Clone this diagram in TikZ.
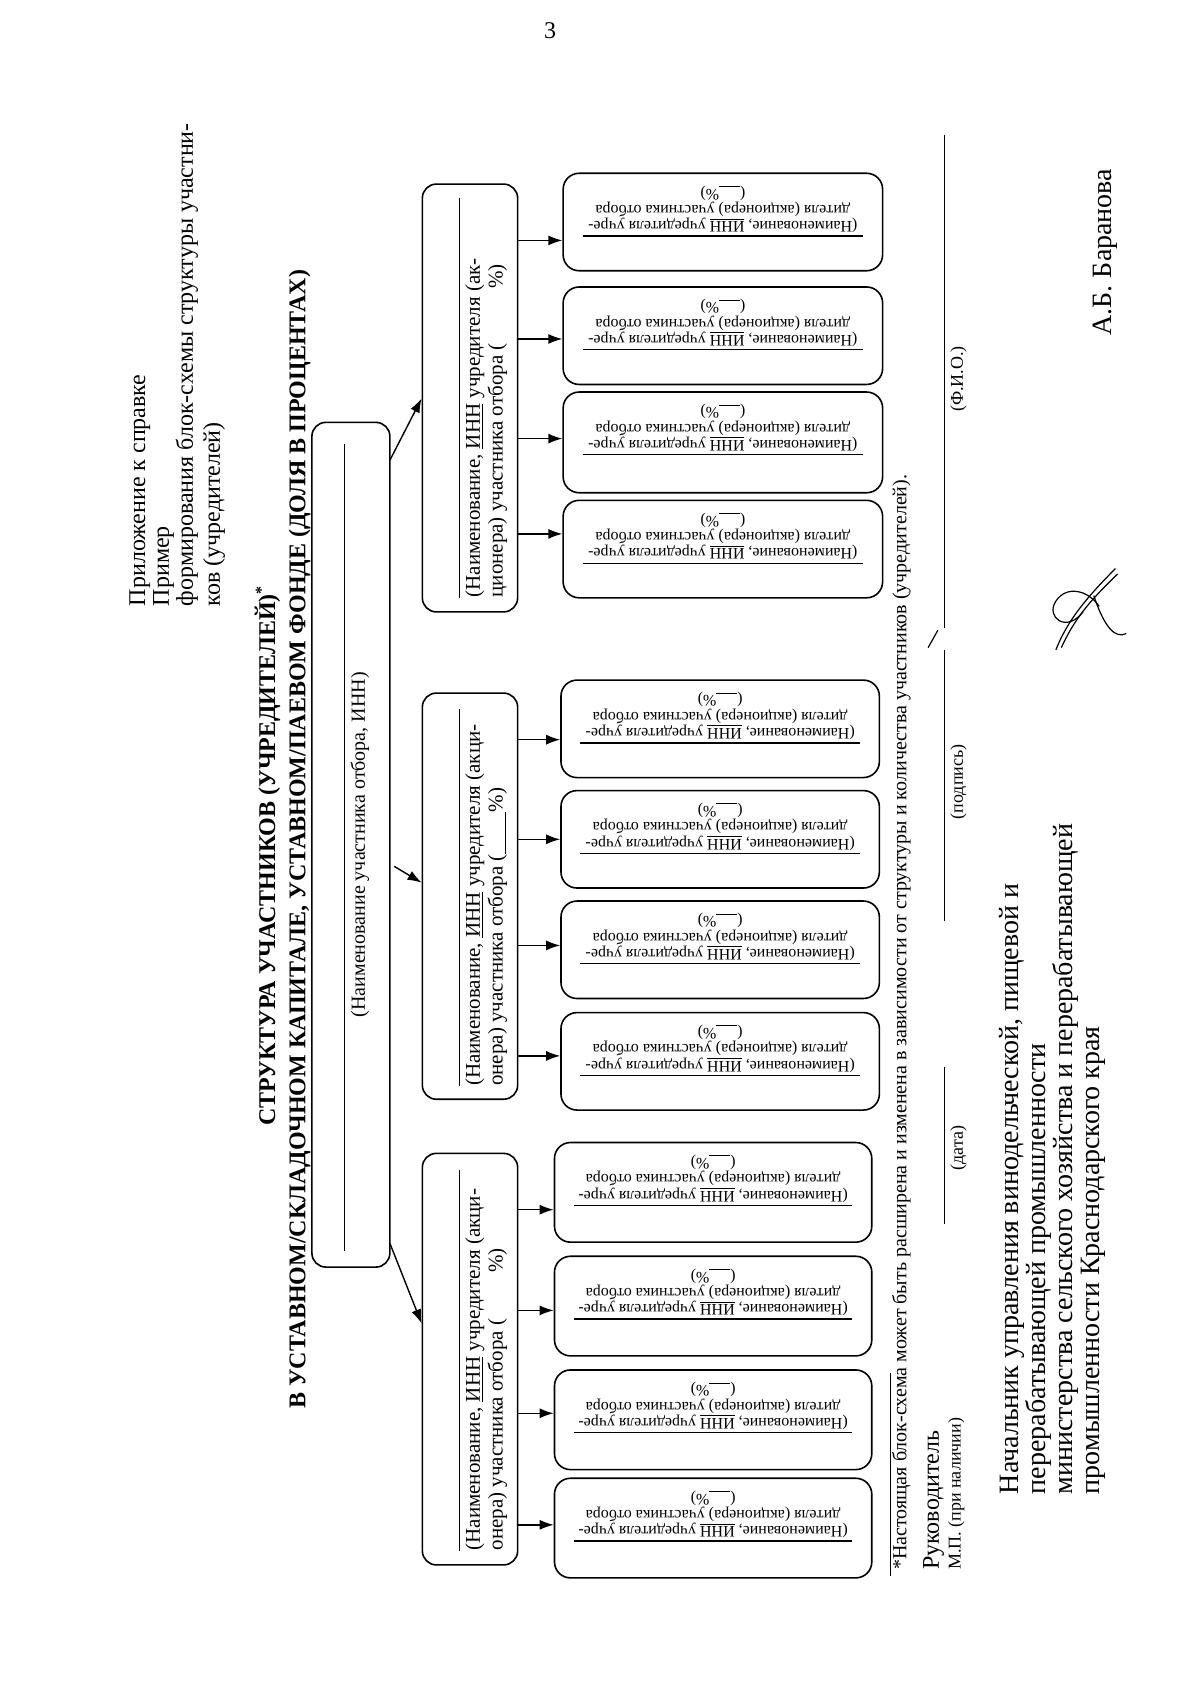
\documentclass[tikz,border=0pt]{standalone}
\usepackage{fontspec}
\setmainfont{Liberation Serif}
\usetikzlibrary{arrows.meta,fit}
\newcommand{\fs}[1]{\fontsize{#1}{#1}\selectfont}
\tikzset{
  box/.style={draw, rounded corners=7pt, line width=0.8pt, inner sep=0pt},
  cbox/.style={draw, rounded corners=8pt, line width=0.8pt, inner sep=0pt},
  rot/.style={rotate=90, anchor=base west, inner sep=0pt},
  rotc/.style={rotate=90, anchor=base, inner sep=0pt},
  ctext/.style={rotate=180, align=center, inner sep=0pt, font=\fontsize{8}{8.2}\selectfont},
  blank/.style={line width=0.6pt},
  arr/.style={-{Latex[length=7pt,width=5pt]}, line width=0.7pt}
}
\newcommand{\chbox}[7]{%
  \node[cbox, fit={(#2,-#3) (#4,-#5)}] (#1) {};
  \node[ctext] (#1t) at ({(#2+#4)/2},{-#3-33}) {(Наименование, \underline{ИНН} учредителя учре-\\дителя (акционера) участника отбора\\(\underline{\hspace{1.3em}}\%)};
  \draw[blank] ({#2+18},{-#3-58}) -- ({#4-18},{-#3-58});
  \draw[arr] (#6.east |- 0,-#7) -- (#1.west |- 0,-#7);
}
\begin{document}
\begin{tikzpicture}[x=0.5415pt,y=0.5415pt]
\useasboundingbox[fill=white] (0,0) rectangle (1108,-1563.3);

% page number
\node[font=\fs{12}, inner sep=0pt] (pg) at (508,-28) {3};

% appendix note
\node[rot, font=\fs{12}] (a1) at (134,-560) {Приложение к справке};
\node[rot, font=\fs{12}] (a2) at (156,-560) {Пример};
\node[rot, font=\fs{12}] (a3) at (178,-560) {формирования блок-схемы структуры участни-};
\node[rot, font=\fs{12}] (a4) at (203,-560) {ков (учредителей)};

% title
\node[rotc, font=\bfseries\fs{12}] (t1) at (254,-790) {СТРУКТУРА УЧАСТНИКОВ (УЧРЕДИТЕЛЕЙ)\textsuperscript{*}};
\node[rotc, font=\bfseries\fs{12}] (t2) at (282,-775) {В УСТАВНОМ/СКЛАДОЧНОМ КАПИТАЛЕ, УСТАВНОМ/ПАЕВОМ ФОНДЕ (ДОЛЯ В ПРОЦЕНТАХ)};

% root box
\node[box, fit={(288,-390) (360,-1170)}] (root) {};
\draw[blank] (318,-410) -- (318,-1155);
\node[rotc, font=\fs{10}] (roott) at (337,-780) {(Наименование участника отбора, ИНН)};

% parent boxes
\node[box, fit={(390,-1065) (478,-1445)}] (P1) {};
\draw[blank] (424,-1080) -- (424,-1432);
\node[rot, font=\fs{10.5}] (P1a) at (443,-1432) {(Наименование, \underline{ИНН} учредителя (акци-};
\node[rot, font=\fs{10.5}] (P1b) at (464,-1432) {онера) участника отбора (\hspace{2.2em}\%)};

\node[box, fit={(390,-640) (478,-1015)}] (P2) {};
\draw[blank] (424,-655) -- (424,-1003);
\node[rot, font=\fs{10.5}] (P2a) at (443,-1003) {(Наименование, \underline{ИНН} учредителя (акци-};
\node[rot, font=\fs{10.5}] (P2b) at (464,-1003) {онера) участника отбора (\underline{\hspace{2em}}\%)};

\node[box, fit={(390,-170) (478,-565)}] (P3) {};
\draw[blank] (424,-183) -- (424,-552);
\node[rot, font=\fs{10.5}] (P3a) at (443,-552) {(Наименование, \underline{ИНН} учредителя (ак-};
\node[rot, font=\fs{10.5}] (P3b) at (464,-552) {ционера) участника отбора (\hspace{2.6em}\%)};

% root -> parents
\coordinate (r1) at (360,-1148);
\coordinate (r2) at (364,-800);
\coordinate (r3) at (360,-425);
\draw[arr] (r1) -- (P1.west |- 0,-1222);
\draw[arr] (r2) -- (P2.west |- 0,-815);
\draw[arr] (r3) -- (P3.west |- 0,-368);

% child boxes: group 3 (top)
\chbox{C31}{520}{160}{815}{250}{P3}{222}
\chbox{C32}{520}{265}{815}{355}{P3}{313}
\chbox{C33}{520}{362}{815}{455}{P3}{405}
\chbox{C34}{520}{462}{815}{552}{P3}{493}
% group 2
\chbox{C21}{518}{628}{812}{718}{P2}{683}
\chbox{C22}{518}{730}{812}{820}{P2}{775}
\chbox{C23}{518}{832}{812}{922}{P2}{873}
\chbox{C24}{518}{935}{812}{1025}{P2}{975}
% group 1
\chbox{C11}{512}{1055}{805}{1147}{P1}{1117}
\chbox{C12}{512}{1160}{805}{1252}{P1}{1210}
\chbox{C13}{512}{1265}{805}{1357}{P1}{1305}
\chbox{C14}{512}{1365}{805}{1457}{P1}{1408}

% footnote
\draw[line width=0.6pt] (822,-1455) -- (822,-1268);
\node[rot, font=\fs{10}] (fn) at (837,-1450) {*Настоящая блок-схема может быть расширена и изменена в зависимости от структуры и количества участников (учредителей).};

% signature block
\node[rot, font=\fs{12}] (ruk) at (867,-1450) {Руководитель};
\node[rot, font=\fs{9}] (mp) at (887,-1450) {М.П. (при наличии)};
\draw[line width=0.6pt] (872,-985) -- (872,-1130);
\node[rotc, font=\fs{9}] (dt) at (889,-1060) {(дата)};
\draw[line width=0.6pt] (872,-600) -- (872,-850);
\node[rotc, font=\fs{9}] (sg) at (889,-722) {(подпись)};
\draw[line width=0.6pt] (857,-598) -- (866,-582);
\draw[line width=0.6pt] (872,-125) -- (872,-580);
\node[rotc, font=\fs{9}] (fio) at (889,-350) {(Ф.И.О.)};

% bottom block
\node[rot, font=\fs{14}] (b1) at (940,-1380) {Начальник управления винодельческой, пищевой и};
\node[rot, font=\fs{14}] (b2) at (965,-1380) {перерабатывающей промышленности};
\node[rot, font=\fs{14}] (b3) at (990,-1380) {министерства сельского хозяйства и перерабатывающей};
\node[rot, font=\fs{14}] (b4) at (1015,-1380) {промышленности Краснодарского края};
\node[rot, font=\fs{14}] (nm) at (1026,-310) {А.Б. Баранова};

% handwritten signature
\draw[line width=0.6pt] (975,-600) .. controls (985,-575) and (1000,-555) .. (1030,-525);
\draw[line width=0.6pt] (980,-598) .. controls (992,-572) and (1005,-556) .. (1032,-530);
\draw[line width=0.6pt] (1000,-565) .. controls (985,-585) and (965,-570) .. (975,-555) .. controls (985,-540) and (1005,-545) .. (1015,-560);
\draw[line width=0.6pt] (1010,-550) .. controls (1020,-580) and (1030,-590) .. (1040,-585);
\end{tikzpicture}
\end{document}
